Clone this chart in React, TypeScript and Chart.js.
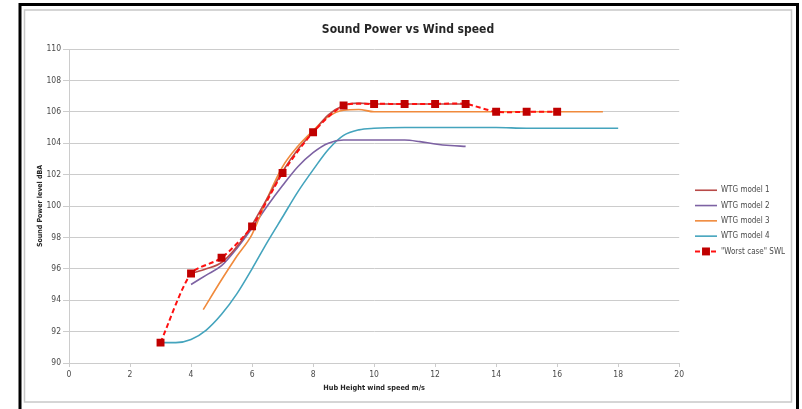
import { useEffect, useRef } from 'react';
import { Chart, Legend, registerables } from 'chart.js';
import type { Plugin, LegendItem } from 'chart.js';

Chart.register(...registerables);

// Wind speeds (m/s) and sound power levels (dBA)
const worstX = [3, 4, 5, 6, 7, 8, 9, 10, 11, 12, 13, 14, 15, 16];
const worstY = [91.3, 95.7, 96.7, 98.7, 102.1, 104.7, 106.4, 106.5, 106.5, 106.5, 106.5, 106.0, 106.0, 106.0];

const model1X = [4, 4.5, 5, 5.5, 6, 6.5, 7, 7.5, 8, 8.5, 9, 9.5, 10, 11, 12, 13];
const model1Y = [95.7, 96.0, 96.4, 97.4, 98.8, 100.5, 102.2, 103.6, 104.7, 105.8, 106.4, 106.55, 106.5, 106.5, 106.5, 106.5];

const model2X = [4, 4.5, 5, 5.5, 6, 6.5, 7, 7.5, 8, 8.5, 9, 9.5, 10, 10.5, 11, 11.5, 12, 12.5, 13];
const model2Y = [95.0, 95.6, 96.2, 97.3, 98.6, 100.0, 101.3, 102.5, 103.4, 104.0, 104.2, 104.2, 104.2, 104.2, 104.2, 104.1, 103.95, 103.85, 103.8];

const model3X = [4.4, 5, 5.5, 6, 6.5, 7, 7.5, 8, 8.5, 9, 9.5, 10, 11, 12, 13, 14, 15, 16, 17, 17.5];
const model3Y = [93.4, 95.3, 96.8, 98.2, 100.5, 102.5, 103.8, 104.8, 105.7, 106.1, 106.15, 106.0, 106.0, 106.0, 106.0, 106.0, 106.0, 106.0, 106.0, 106.0];

const model4X = [3, 3.5, 4, 4.5, 5, 5.5, 6, 6.5, 7, 7.5, 8, 8.5, 9, 9.5, 10, 11, 12, 13, 14, 15, 16, 17, 18];
const model4Y = [91.3, 91.3, 91.5, 92.1, 93.1, 94.4, 96.0, 97.7, 99.3, 100.9, 102.3, 103.6, 104.5, 104.85, 104.95, 105.0, 105.0, 105.0, 105.0, 104.95, 104.95, 104.95, 104.95];

const FONT = "'Liberation Sans Narrow', 'DejaVu Sans Condensed', sans-serif";
const GRID = '#cccccc';
const TEXT = '#4a4a4a';
const BOX_W = 22;
const LEGEND_PAD = 6.8;

const pts = (xs: number[], ys: number[]) => xs.map((x, i) => ({ x, y: ys[i] }));

// white page, black scan edge and the grey chart border
const frame: Plugin<'line'> = {
  id: 'frame',
  beforeDraw(chart) {
    const { ctx, width, height } = chart;
    ctx.save();
    ctx.fillStyle = '#ffffff';
    ctx.fillRect(0, 0, width, height);
    ctx.strokeStyle = '#000000';
    ctx.lineWidth = 3;
    ctx.beginPath();
    ctx.moveTo(20, height);
    ctx.lineTo(20, 4.5);
    ctx.lineTo(797.5, 4.5);
    ctx.lineTo(797.5, height);
    ctx.stroke();
    ctx.strokeStyle = '#c8c8c8';
    ctx.lineWidth = 1.5;
    ctx.strokeRect(24.5, 10, 767, 392);
    ctx.restore();
  },
};

// move the legend block and draw its line / marker samples
const legendSamples: Plugin<'line'> = {
  id: 'legendSamples',
  afterLayout(chart) {
    const lg = chart.legend as any;
    if (!lg) return;
    const w = lg.right - lg.left;
    const h = lg.bottom - lg.top;
    lg.left = 695 - LEGEND_PAD;
    lg.right = lg.left + w;
    lg.top = 190 - 4 - LEGEND_PAD;
    lg.bottom = lg.top + h;
  },
  afterDraw(chart) {
    const lg = chart.legend as any;
    if (!lg || !lg.legendHitBoxes) return;
    const ctx = chart.ctx;
    (lg.legendItems as LegendItem[]).forEach((item, i) => {
      const hb = lg.legendHitBoxes[i];
      const ds = chart.data.datasets[item.datasetIndex as number] as any;
      const y = hb.top + hb.height / 2;
      ctx.save();
      ctx.strokeStyle = ds.borderColor;
      ctx.lineWidth = ds.borderWidth;
      ctx.setLineDash(ds.borderDash ?? []);
      ctx.beginPath();
      ctx.moveTo(hb.left, y);
      ctx.lineTo(hb.left + BOX_W, y);
      ctx.stroke();
      if (ds.pointRadius > 0) {
        const s = ds.pointRadius / Math.SQRT2;
        ctx.fillStyle = ds.pointBackgroundColor;
        ctx.fillRect(hb.left + BOX_W / 2 - s, y - s, 2 * s, 2 * s);
      }
      ctx.restore();
    });
  },
};

export default function App(): JSX.Element {
  const canvasRef = useRef<HTMLCanvasElement>(null);

  useEffect(() => {
    if (!canvasRef.current) return;
    const base = { pointRadius: 0, borderWidth: 1.6, fill: false, cubicInterpolationMode: 'monotone' as const };

    const chart = new Chart(canvasRef.current, {
      type: 'line',
      data: {
        datasets: [
          { ...base, label: 'WTG model 1', data: pts(model1X, model1Y), borderColor: '#b84a48', order: 1 },
          { ...base, label: 'WTG model 2', data: pts(model2X, model2Y), borderColor: '#7d62a3', order: 3 },
          { ...base, label: 'WTG model 3', data: pts(model3X, model3Y), borderColor: '#f08a3c', order: 2 },
          { ...base, label: 'WTG model 4', data: pts(model4X, model4Y), borderColor: '#44a4bd', order: 4 },
          {
            label: '"Worst case" SWL',
            data: pts(worstX, worstY),
            borderColor: '#ff1010',
            borderWidth: 2,
            borderDash: [5, 3],
            tension: 0.25,
            pointStyle: 'rect',
            pointRadius: 5.6,
            pointBackgroundColor: '#c00000',
            pointBorderColor: '#c00000',
            pointBorderWidth: 0,
            order: 0,
          },
        ],
      },
      options: {
        responsive: false,
        animation: false,
        layout: { padding: { left: 30, right: 16, top: 0, bottom: 16 } },
        plugins: {
          title: {
            display: true,
            text: 'Sound Power vs Wind speed',
            color: '#262626',
            font: { family: FONT, size: 12, weight: 'bold' },
            padding: { top: 23, bottom: 11.6 },
          },
          legend: {
            position: 'right',
            align: 'start',
            labels: {
              boxWidth: BOX_W,
              boxHeight: 8.5,
              padding: LEGEND_PAD,
              color: TEXT,
              font: { family: FONT, size: 8 },
              sort: (a, b) => (a.datasetIndex as number) - (b.datasetIndex as number),
              generateLabels: c =>
                Legend.defaults.labels.generateLabels(c).map((l: LegendItem) => ({
                  ...l,
                  fillStyle: 'rgba(0,0,0,0)',
                  strokeStyle: 'rgba(0,0,0,0)',
                  lineWidth: 0,
                })),
            },
          },
          tooltip: { enabled: false },
        },
        scales: {
          x: {
            type: 'linear',
            min: 0,
            max: 20,
            ticks: { stepSize: 2, color: TEXT, font: { family: FONT, size: 8.5 }, padding: 3 },
            grid: { drawOnChartArea: false, drawTicks: true, tickLength: 4, tickColor: GRID },
            border: { display: true, color: GRID },
            title: {
              display: true,
              text: 'Hub Height wind speed m/s',
              color: '#262626',
              font: { family: FONT, size: 7.3, weight: 'bold' },
              padding: { top: 0, bottom: 1 },
            },
            afterFit: s => { s.height = 30; },
          },
          y: {
            min: 90,
            max: 110,
            ticks: { stepSize: 2, color: TEXT, font: { family: FONT, size: 8.5 }, padding: 2 },
            grid: { color: GRID, drawTicks: true, tickLength: 6, tickColor: GRID },
            border: { display: true, color: GRID },
            title: {
              display: true,
              text: 'Sound Power level dBA',
              color: '#262626',
              font: { family: FONT, size: 7, weight: 'bold' },
              padding: { top: 5.8, bottom: 0 },
            },
            afterFit: s => { s.width = 39; },
          },
        },
      },
      plugins: [frame, legendSamples],
    });

    return () => { chart.destroy(); };
  }, []);

  return (
    <div style={{ position: 'fixed', left: 0, top: 0, width: 802, height: 409, background: '#fff' }}>
      <canvas ref={canvasRef} width={802} height={409} />
    </div>
  );
}
